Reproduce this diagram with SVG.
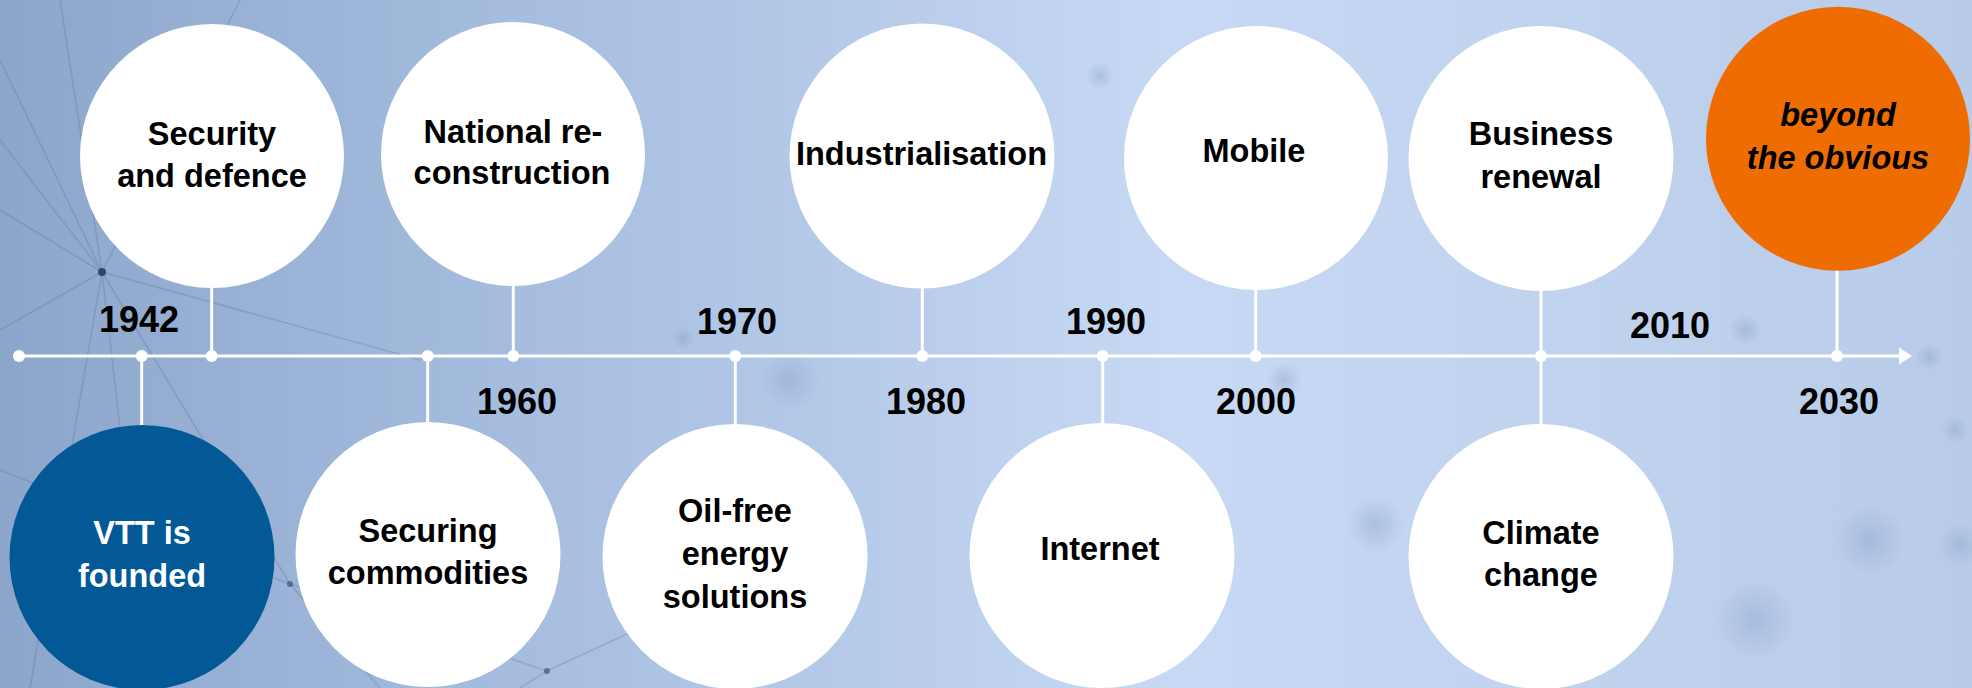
<svg xmlns="http://www.w3.org/2000/svg" width="1972" height="688" viewBox="0 0 1972 688">
  <defs>
    <linearGradient id="bg" x1="0" y1="0" x2="1" y2="0">
      <stop offset="0" stop-color="#8ca6cb"/>
      <stop offset="0.3" stop-color="#a9c0e1"/>
      <stop offset="0.6" stop-color="#c7d9f4"/>
      <stop offset="1" stop-color="#b8cbe8"/>
    </linearGradient>
    <radialGradient id="blob" cx="0.5" cy="0.5" r="0.5">
      <stop offset="0" stop-color="#7f98c2" stop-opacity="0.35"/>
      <stop offset="1" stop-color="#7f98c2" stop-opacity="0"/>
    </radialGradient>
    <style>
      .lbl { font-family: "Liberation Sans", Arial, sans-serif; font-weight: bold; font-size: 32.5px; fill: #000; text-anchor: middle; }
      .yr { font-family: "Liberation Sans", Arial, sans-serif; font-weight: bold; font-size: 36px; fill: #000; text-anchor: middle; }
      .white { fill: #ffffff; }
      .orange { fill: #ef6c00; }
      .blue { fill: #035896; }
      .lbl-w { fill: #ffffff; }
      .lbl-i { font-style: italic; }
      .conn { stroke: #ffffff; stroke-width: 3; fill: none; }
      .dot { fill: #ffffff; }
      .net { stroke: #3e5680; stroke-width: 1.5; stroke-opacity: 0.2; fill: none; }
    </style>
  </defs>

  <!-- background -->
  <rect x="0" y="0" width="1972" height="688" fill="url(#bg)"/>
  <g id="background-network">
    <path class="net" d="M102 272 L0 140 M102 272 L0 210 M102 272 L0 330 M102 272 L30 688 M102 272 L150 688 M102 272 L290 584 M102 272 L60 0 M102 272 L240 0 M102 272 L420 360 M290 584 L547 671 M290 584 L0 470 M290 584 L380 688 M547 671 L700 600 M547 671 L520 688 M0 60 L102 272"/>
    <circle cx="102" cy="272" r="4" fill="#1e2f4f" fill-opacity="0.8"/>
    <circle cx="290" cy="584" r="3" fill="#1e2f4f" fill-opacity="0.5"/>
    <circle cx="547" cy="671" r="3" fill="#1e2f4f" fill-opacity="0.5"/>
    <circle cx="683" cy="338" r="12" fill="url(#blob)"/>
    <circle cx="790" cy="380" r="30" fill="url(#blob)"/>
    <circle cx="1100" cy="76" r="14" fill="url(#blob)"/>
    <circle cx="1284" cy="380" r="18" fill="url(#blob)"/>
    <circle cx="1375" cy="525" r="30" fill="url(#blob)"/>
    <circle cx="1745" cy="330" r="16" fill="url(#blob)"/>
    <circle cx="1929" cy="357" r="14" fill="url(#blob)"/>
    <circle cx="1955" cy="430" r="14" fill="url(#blob)"/>
    <circle cx="1960" cy="545" r="22" fill="url(#blob)"/>
    <circle cx="1755" cy="620" r="40" fill="url(#blob)"/>
    <circle cx="1870" cy="540" r="35" fill="url(#blob)"/>
  </g>

  <!-- connectors: timeline, stems, dots, arrow -->
  <g id="connectors">
    <line class="conn" x1="19" y1="356" x2="1902" y2="356" stroke-width="3.5"/>
    <polygon points="1899,347.5 1912,356 1899,364.5" fill="#ffffff"/>
    <line class="conn" x1="141.7" y1="356" x2="141.7" y2="428"/>
    <line class="conn" x1="211.7" y1="285" x2="211.7" y2="356"/>
    <line class="conn" x1="427.7" y1="356" x2="427.7" y2="424"/>
    <line class="conn" x1="513.3" y1="284" x2="513.3" y2="356"/>
    <line class="conn" x1="735.3" y1="356" x2="735.3" y2="427"/>
    <line class="conn" x1="922.3" y1="286" x2="922.3" y2="356"/>
    <line class="conn" x1="1102.7" y1="356" x2="1102.7" y2="425"/>
    <line class="conn" x1="1255.7" y1="288" x2="1255.7" y2="356"/>
    <line class="conn" x1="1541" y1="288" x2="1541" y2="427"/>
    <line class="conn" x1="1837" y1="268" x2="1837" y2="356"/>
    <circle class="dot" cx="19" cy="356" r="6"/>
    <circle class="dot" cx="141.7" cy="356" r="6"/>
    <circle class="dot" cx="211.7" cy="356" r="6"/>
    <circle class="dot" cx="427.7" cy="356" r="6"/>
    <circle class="dot" cx="513.3" cy="356" r="6"/>
    <circle class="dot" cx="735.3" cy="356" r="6"/>
    <circle class="dot" cx="922.3" cy="356" r="6"/>
    <circle class="dot" cx="1102.7" cy="356" r="6"/>
    <circle class="dot" cx="1255.7" cy="356" r="6"/>
    <circle class="dot" cx="1541" cy="356" r="6"/>
    <circle class="dot" cx="1837" cy="356" r="6"/>
  </g>

  <!-- year labels -->
  <g id="years">
    <text class="yr" x="139" y="332">1942</text>
    <text class="yr" x="517" y="414">1960</text>
    <text class="yr" x="737" y="334">1970</text>
    <text class="yr" x="926" y="414">1980</text>
    <text class="yr" x="1106" y="334">1990</text>
    <text class="yr" x="1256" y="414">2000</text>
    <text class="yr" x="1670" y="338">2010</text>
    <text class="yr" x="1839" y="414">2030</text>
  </g>

  <!-- top nodes -->
  <g id="node-security">
    <circle class="white" cx="212" cy="156" r="132"/>
    <text class="lbl" x="212" y="145">Security</text>
    <text class="lbl" x="212" y="186.5">and defence</text>
  </g>
  <g id="node-national">
    <circle class="white" cx="513" cy="154" r="132"/>
    <text class="lbl" x="513" y="142.5">National re-</text>
    <text class="lbl" x="512" y="184.3">construction</text>
  </g>
  <g id="node-industrialisation">
    <circle class="white" cx="922" cy="156" r="132.5"/>
    <text class="lbl" x="921.5" y="164.5">Industrialisation</text>
  </g>
  <g id="node-mobile">
    <circle class="white" cx="1256" cy="158" r="132"/>
    <text class="lbl" x="1254" y="161.5">Mobile</text>
  </g>
  <g id="node-business">
    <circle class="white" cx="1541" cy="158.5" r="132.5"/>
    <text class="lbl" x="1541" y="144.8">Business</text>
    <text class="lbl" x="1541" y="188.3">renewal</text>
  </g>
  <g id="node-beyond">
    <circle class="orange" cx="1838" cy="138.7" r="132"/>
    <text class="lbl lbl-i" x="1838" y="126.4">beyond</text>
    <text class="lbl lbl-i" x="1838" y="169">the obvious</text>
  </g>

  <!-- bottom nodes -->
  <g id="node-vtt">
    <circle class="blue" cx="142" cy="557.5" r="132.5"/>
    <text class="lbl lbl-w" x="142" y="544">VTT is</text>
    <text class="lbl lbl-w" x="142" y="586.7">founded</text>
  </g>
  <g id="node-commodities">
    <circle class="white" cx="428" cy="554.5" r="132.5"/>
    <text class="lbl" x="428" y="542">Securing</text>
    <text class="lbl" x="428" y="583.6">commodities</text>
  </g>
  <g id="node-oilfree">
    <circle class="white" cx="735" cy="556.5" r="132.5"/>
    <text class="lbl" x="735" y="522">Oil-free</text>
    <text class="lbl" x="735" y="564.5">energy</text>
    <text class="lbl" x="735" y="607.7">solutions</text>
  </g>
  <g id="node-internet">
    <circle class="white" cx="1102" cy="555.5" r="132.5"/>
    <text class="lbl" x="1100" y="559.5">Internet</text>
  </g>
  <g id="node-climate">
    <circle class="white" cx="1541" cy="556.5" r="132.5"/>
    <text class="lbl" x="1541" y="544">Climate</text>
    <text class="lbl" x="1541" y="585.8">change</text>
  </g>
</svg>
